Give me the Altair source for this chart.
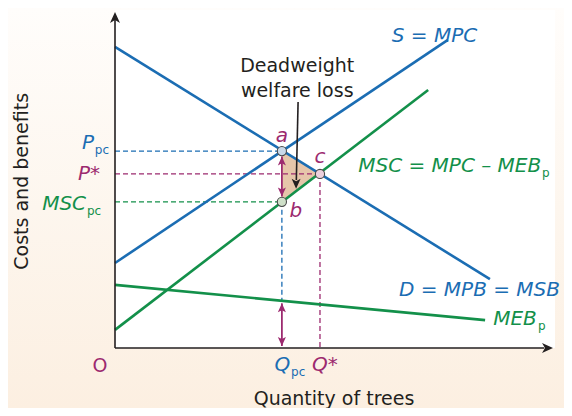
import altair as alt
import pandas as pd

BLUE = "#1b6db3"
GREEN = "#13904a"
MAG = "#9c2a6f"
INK = "#231f20"
FONT = "DejaVu Sans"

# ---- data (quantity q, cost/benefit v, both in 0..100 units) ----
s_q = [0, 76.0];    s_v = [25.3, 91.7]     # S = MPC
d_q = [0, 85.6];    d_v = [89.6, 20.5]     # D = MPB = MSB
msc_q = [0, 71.5];  msc_v = [5.4, 76.8]    # MSC = MPC - MEB
meb_q = [0, 84.5];  meb_v = [18.8, 8.3]    # MEB
pt_names = ["a", "b", "c"]
pt_q = [38.1, 38.1, 46.8]
pt_v = [58.6, 43.5, 51.8]
pt_fill = ["#c9d9ea", "#cfe0c9", "#ecd0dd"]
meb_at_qpc = 14.1

xs = alt.Scale(domain=[0, 100], nice=False, zero=False)
ys = alt.Scale(domain=[0, 100], nice=False, zero=False)


def X(f="q", **k):
    return alt.X(f, type="quantitative", scale=xs, axis=None, **k)


def Y(f="v", **k):
    return alt.Y(f, type="quantitative", scale=ys, axis=None, **k)


def df(**cols):
    return pd.DataFrame(cols)


layers = []

# backgrounds
grad = alt.Gradient(gradient="linear", x1=0, x2=0, y1=0, y2=1,
                    stops=[alt.GradientStop(color="#fffdfb", offset=0),
                           alt.GradientStop(color="#fdf6ee", offset=0.5),
                           alt.GradientStop(color="#fcefe1", offset=1)])
layers.append(alt.Chart(df(k=[0])).mark_rect(fill=grad).encode(
    x=alt.value(-107), x2=alt.value(449), y=alt.value(-4), y2=alt.value(396)))
layers.append(alt.Chart(df(k=[0])).mark_rect(fill="white").encode(
    x=alt.value(0), x2=alt.value(440), y=alt.value(-2), y2=alt.value(336)))

# deadweight triangle
tri = df(q=[pt_q[0], pt_q[2]], v=[pt_v[0], pt_v[2]], v2=[pt_v[1], pt_v[2]])
layers.append(alt.Chart(tri).mark_area(color="#e6c5aa", opacity=1).encode(
    x=X(), y=Y(), y2="v2"))

# dashed guides
hd = df(q=[0, 0, 0], q2=[pt_q[0], pt_q[2], pt_q[1]], v=[pt_v[0], pt_v[2], pt_v[1]],
        c=[BLUE, MAG, GREEN])
layers.append(alt.Chart(hd).mark_rule(strokeDash=[5, 3], strokeWidth=1.3).encode(
    x=X(), x2="q2", y=Y(), color=alt.Color("c:N", scale=None)))
vd = df(q=[pt_q[1], pt_q[2]], v=[pt_v[1], pt_v[2]], v2=[meb_at_qpc, 0], c=[BLUE, MAG])
layers.append(alt.Chart(vd).mark_rule(strokeDash=[5, 3], strokeWidth=1.3).encode(
    x=X(), y=Y(), y2="v2", color=alt.Color("c:N", scale=None)))

# curves
for qq, vv, col in [(s_q, s_v, BLUE), (d_q, d_v, BLUE), (msc_q, msc_v, GREEN), (meb_q, meb_v, GREEN)]:
    layers.append(alt.Chart(df(q=qq, v=vv)).mark_line(color=col, strokeWidth=2.6, clip=False).encode(
        x=X(), y=Y()))

# axes
layers.append(alt.Chart(df(q=[0], v=[0], v2=[98])).mark_rule(color=INK, strokeWidth=1.6).encode(
    x=X(), y=Y(), y2="v2"))
layers.append(alt.Chart(df(q=[0], q2=[98], v=[0])).mark_rule(color=INK, strokeWidth=1.6).encode(
    x=X(), x2="q2", y=Y()))

UP = "M0,0L1,2.2L0,1.6L-1,2.2Z"
RIGHT = "M0,0L-2.2,1L-1.6,0L-2.2,-1Z"
UP_S = "M0,0L0.85,1.9L0,1.45L-0.85,1.9Z"
DOWN_S = "M0,0L0.85,-1.9L0,-1.45L-0.85,-1.9Z"
layers.append(alt.Chart(df(q=[0], v=[100])).mark_point(shape=UP, filled=True, color=INK, size=100, opacity=1).encode(
    x=X(), y=Y()))
layers.append(alt.Chart(df(q=[100], v=[0])).mark_point(shape=RIGHT, filled=True, color=INK, size=100, opacity=1).encode(
    x=X(), y=Y()))

# magenta double arrows
arr = df(q=[pt_q[0], pt_q[0]], v=[57.0, 13.3], v2=[45.1, 0.6])
layers.append(alt.Chart(arr).mark_rule(color=MAG, strokeWidth=1.8).encode(x=X(), y=Y(), y2="v2"))
layers.append(alt.Chart(arr).mark_point(shape=UP_S, filled=True, color=MAG, size=90, opacity=1).encode(x=X(), y=Y()))
layers.append(alt.Chart(arr).mark_point(shape=DOWN_S, filled=True, color=MAG, size=90, opacity=1).encode(x=X(), y=Y("v2")))

# black annotation arrow
ann = df(q=[41.8, 41.4], v=[73.2, 50.0])
layers.append(alt.Chart(ann).mark_line(color=INK, strokeWidth=1.6).encode(x=X(), y=Y()))
layers.append(alt.Chart(df(q=[41.35], v=[47.4])).mark_point(shape=DOWN_S, filled=True, color=INK, size=110, opacity=1).encode(
    x=X(), y=Y()))

# points a, b, c
pts = df(q=pt_q, v=pt_v, f=pt_fill)
layers.append(alt.Chart(pts).mark_point(filled=True, size=85, stroke="#4a4a4a", strokeWidth=1.1, opacity=1).encode(
    x=X(), y=Y(), fill=alt.Fill("f:N", scale=None)))

# texts
lab_text = ["Deadweight", "welfare loss", "S = MPC", "MSC = MPC \u2013 MEB", "D = MPB = MSB", "MEB",
            "P", "P*", "MSC", "O", "Q", "Q*", "Quantity of trees", "a", "b", "c"]
lab_q = [41.6, 41.6, 63.2, 97.3, 101.6, 96.3, -4.8, -3.4, -6.6, -3.4, 40.0, 45.0, 50.0, 38.1, 41.3, 46.8]
lab_v = [82.1, 74.7, 91.1, 52.4, 15.5, 6.8, 59.2, 50.0, 41.1, -7.1, -6.8, -6.8, -16.9, 61.3, 39.0, 55.1]
lab_align = ["center", "center", "left", "right", "right", "right", "right", "right", "right", "center",
             "right", "left", "center", "center", "center", "center"]
lab_col = [INK, INK, BLUE, GREEN, BLUE, GREEN, BLUE, MAG, GREEN, MAG, BLUE, MAG, INK, MAG, MAG, MAG]
lab_style = ["normal", "normal"] + ["italic"] * 6 + ["italic", "normal", "italic", "italic", "normal",
                                                      "italic", "italic", "italic"]
lab_size = [19, 19, 20, 20, 20, 20, 20, 20, 20, 19, 20, 20, 19, 20, 20, 20]
labs = df(t=lab_text, q=lab_q, v=lab_v, al=lab_align, c=lab_col, s=lab_style, z=lab_size)
for al in ["left", "center", "right"]:
    for st in ["normal", "italic"]:
        sub = labs[(labs.al == al) & (labs.s == st)]
        if len(sub) == 0:
            continue
        layers.append(alt.Chart(sub).mark_text(align=al, baseline="alphabetic", font=FONT, fontStyle=st).encode(
            x=X(), y=Y(), text="t:N", color=alt.Color("c:N", scale=None), size=alt.Size("z:Q", scale=None)))

sub_text = ["p", "p", "pc", "pc", "pc"]
sub_q = [97.5, 96.6, -4.6, -6.4, 40.2]
sub_v = [50.9, 5.4, 57.7, 39.6, -8.3]
sub_col = [GREEN, GREEN, BLUE, GREEN, BLUE]
subs = df(t=sub_text, q=sub_q, v=sub_v, c=sub_col)
layers.append(alt.Chart(subs).mark_text(align="left", baseline="alphabetic", font=FONT, fontSize=12).encode(
    x=X(), y=Y(), text="t:N", color=alt.Color("c:N", scale=None)))

# y axis title
layers.append(alt.Chart(df(t=["Costs and benefits"], q=[-21.2], v=[49.6])).mark_text(
    angle=270, align="center", baseline="middle", font=FONT, fontSize=19, color=INK).encode(
    x=X(), y=Y(), text="t:N"))

chart = alt.layer(*layers).properties(
    width=438, height=336,
    autosize=alt.AutoSizeParams(type="none"),
    padding={"left": 107, "top": 4, "right": 11, "bottom": 60},
    background="#fdf8f1",
).configure_view(stroke=None)

chart.save("out.html", embed_options={"renderer": "svg", "actions": False})
